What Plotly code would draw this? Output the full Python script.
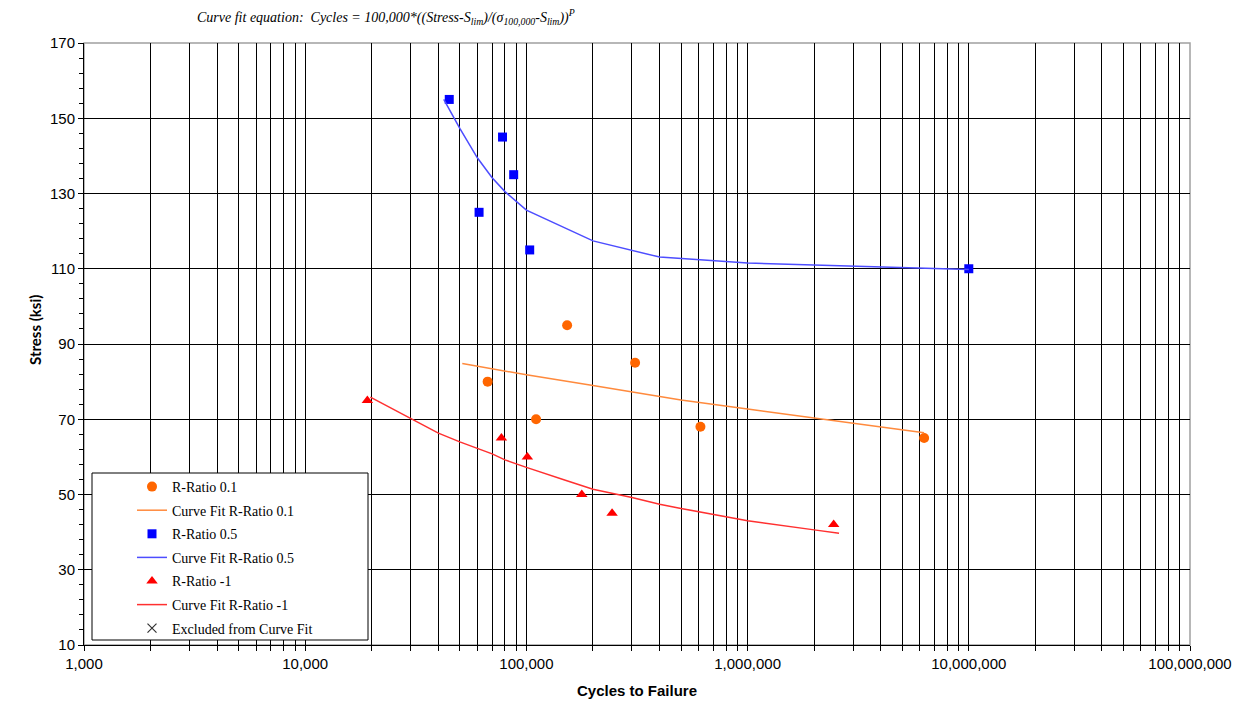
import plotly.graph_objects as go

# Test data: cycles to failure and stress (ksi) for each R-ratio
r01_cycles = [152800, 310000, 66800, 110600, 612000, 6280000]
r01_stress = [95, 85, 80, 70, 68, 65]

r05_cycles = [44800, 78000, 87600, 61100, 103500, 10000000]
r05_stress = [155, 145, 135, 125, 115, 110]

rm1_cycles = [19100, 77100, 101000, 178000, 244000, 2450000]
rm1_stress = [75, 65, 60, 50, 45, 42]

# Curve-fit lines
fit01_cycles = [51300, 100000, 200000, 500000, 1000000, 2000000, 6280000]
fit01_stress = [84.8, 81.8, 79.0, 75.1, 72.7, 70.3, 66.4]

fit05_cycles = [42300, 50000, 60000, 70000, 80000, 90000, 100000, 200000,
                300000, 400000, 1000000, 10000000]
fit05_stress = [155.0, 147.3, 139.5, 134.2, 130.5, 127.8, 125.6, 117.4,
                 114.9, 113.1, 111.5, 109.8]

fitm1_cycles = [19700, 30000, 40000, 50000, 60000, 70000, 80000, 100000,
                150000, 200000, 300000, 400000, 500000, 600000, 800000, 1000000,
                2000000, 2590000]
fitm1_stress = [75.9, 70.2, 66.3, 64.0, 62.3, 60.8, 59.2, 57.2,
                53.8, 51.4, 49.2, 47.4, 46.3, 45.4, 44.1, 43.0, 40.6, 39.7]

# Axis ticks
x_decades = [1000, 10000, 100000, 1000000, 10000000, 100000000]
x_decade_labels = ["1,000", "10,000", "100,000", "1,000,000", "10,000,000", "100,000,000"]
y_ticks = [10, 30, 50, 70, 90, 110, 130, 150, 170]

x_tickvals, x_ticktext = [], []
for d, lab in zip(x_decades, x_decade_labels):
    x_tickvals.append(d)
    x_ticktext.append(lab)
    if d < x_decades[-1]:
        for m in range(2, 10):
            x_tickvals.append(d * m)
            x_ticktext.append("")

fig = go.Figure()

fig.add_trace(go.Scatter(x=r01_cycles, y=r01_stress, mode="markers", name="R-Ratio 0.1",
                         marker=dict(symbol="circle", size=10, color="#FF6600"),
                         legendgroup="a"))
fig.add_trace(go.Scatter(x=fit01_cycles, y=fit01_stress, mode="lines", name="Curve Fit R-Ratio 0.1",
                         line=dict(color="#FF8A3D", width=1.5), legendgroup="b"))
fig.add_trace(go.Scatter(x=r05_cycles, y=r05_stress, mode="markers", name="R-Ratio 0.5",
                         marker=dict(symbol="square", size=9, color="#0000FF"),
                         legendgroup="c"))
fig.add_trace(go.Scatter(x=fit05_cycles, y=fit05_stress, mode="lines", name="Curve Fit R-Ratio 0.5",
                         line=dict(color="#4D4DFF", width=1.5), legendgroup="d"))
fig.add_trace(go.Scatter(x=rm1_cycles, y=rm1_stress, mode="markers", name="R-Ratio -1",
                         marker=dict(symbol="triangle-up", size=10, color="#FF0000"),
                         legendgroup="e"))
fig.add_trace(go.Scatter(x=fitm1_cycles, y=fitm1_stress, mode="lines", name="Curve Fit R-Ratio -1",
                         line=dict(color="#FF3030", width=1.5), legendgroup="f"))
fig.add_trace(go.Scatter(x=[None], y=[None], mode="markers", name="Excluded from Curve Fit",
                         marker=dict(symbol="x-thin", size=9, color="#333333",
                                     line=dict(width=1.2, color="#333333")),
                         legendgroup="g"))

# Plot frame: light grey top/right edges
fig.add_shape(type="rect", xref="paper", yref="paper", x0=0, x1=1, y0=0, y1=1,
              line=dict(color="#A0A0A0", width=1.5), layer="between")
# Legend box
fig.add_shape(type="rect", xref="paper", yref="paper",
              x0=(92 - 84) / 1106, x1=(368 - 84) / 1106,
              y0=(645 - 640) / 602, y1=(645 - 473) / 602,
              line=dict(color="#000000", width=1), fillcolor="white", layer="above")

fig.update_layout(
    width=1252, height=702,
    margin=dict(l=84, r=62, t=43, b=57),
    paper_bgcolor="white", plot_bgcolor="white",
    showlegend=True,
    legend=dict(x=(132 - 84) / 1106, y=(645 - 471) / 602, xanchor="left", yanchor="top",
                bgcolor="rgba(0,0,0,0)", borderwidth=0, tracegroupgap=2.4,
                font=dict(family="Liberation Serif, Times New Roman, serif", size=14, color="#000")),
    xaxis=dict(type="log", range=[3, 8], tickmode="array", tickvals=x_tickvals, ticktext=x_ticktext,
               automargin=False,
               showgrid=True, gridcolor="#000000", gridwidth=1.2,
               showline=True, linecolor="#000000", linewidth=1,
               ticks="outside", ticklen=5, tickcolor="#000000",
               tickfont=dict(family="Liberation Sans Narrow, Arial Narrow, Liberation Sans, Arial", size=15, color="#000"),
               title=dict(text="<b>Cycles to Failure</b>", standoff=14,
                          font=dict(family="Liberation Sans, Arial", size=15, color="#000")),
               zeroline=False),
    yaxis=dict(range=[10, 170], tickmode="array", tickvals=y_ticks,
               automargin=False,
               showgrid=True, gridcolor="#000000", gridwidth=1.2,
               showline=True, linecolor="#000000", linewidth=1,
               ticks="outside", ticklen=5, tickcolor="#000000",
               minor=dict(tickmode="linear", tick0=10, dtick=4, ticks="outside", ticklen=4,
                          tickcolor="#000000", showgrid=False),
               tickfont=dict(family="Liberation Sans, Arial", size=15, color="#000"),
               zeroline=False),
    annotations=[
        dict(text="<i>Curve fit equation:\u00a0\u00a0Cycles = 100,000*((Stress-S<sub>lim</sub>)/(σ<sub>100,000</sub>-S<sub>lim</sub>))<sup>P</sup></i>",
             xref="paper", yref="paper", x=(195 - 84) / 1106, y=1 + (43 - 17) / 602,
             xanchor="left", yanchor="middle", showarrow=False,
             font=dict(family="Liberation Serif, Times New Roman, serif", size=14, color="#000")),
        dict(text="<b>Stress (ksi)</b>", textangle=-90, xref="paper", yref="paper",
             x=(35 - 84) / 1106, y=(645 - 330) / 602, xanchor="center", yanchor="middle",
             showarrow=False,
             font=dict(family="Lato, Open Sans, sans-serif", size=15, color="#000")),
    ],
)

fig.write_html("out.html")
